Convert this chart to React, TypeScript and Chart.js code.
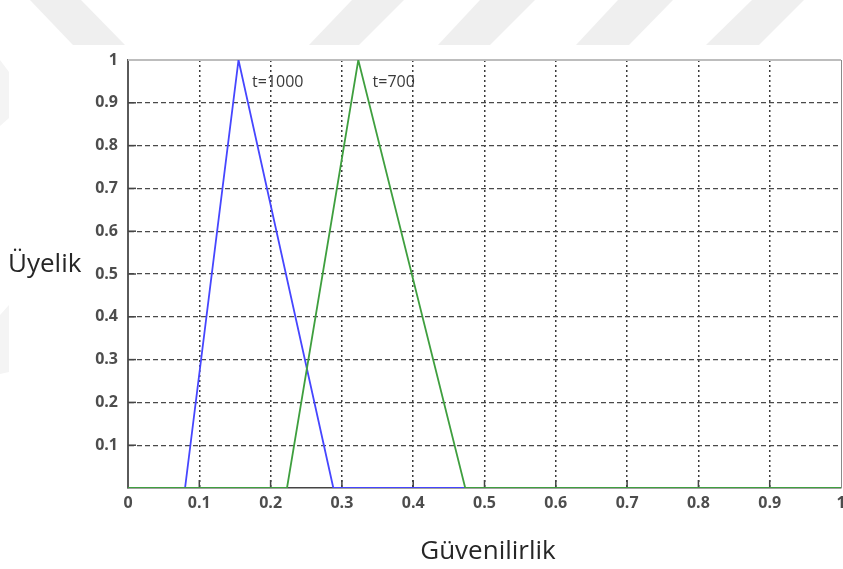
import React, { useEffect, useRef } from "react";
import { Chart, registerables } from "chart.js";

Chart.register(...registerables);

// Membership function t=1000 (blue)
const blueX = [0.08, 0.155, 0.288, 0.473];
const blueY = [0, 1, 0, 0];
// Membership function t=700 (green)
const greenX = [0, 0.223, 0.323, 0.473, 1];
const greenY = [0, 0, 1, 0, 0];

const seriesNames = ["t=1000", "t=700"];
const labelX = [0.174, 0.343];
const labelY = [0.948, 0.948];

const xTicks = [0, 0.1, 0.2, 0.3, 0.4, 0.5, 0.6, 0.7, 0.8, 0.9, 1];
const yTicks = [0.1, 0.2, 0.3, 0.4, 0.5, 0.6, 0.7, 0.8, 0.9, 1];
const xTitle = "Güvenilirlik";
const yTitle = "Üyelik";

const fmt = (v: number) => {
  const r = Number(Number(v).toFixed(1));
  return r === 0 || r === 1 ? String(r) : r.toFixed(1);
};

const decorPlugin = {
  id: "decor",
  beforeDraw(chart: any) {
    const ctx = chart.ctx;
    ctx.save();
    ctx.fillStyle = "#ffffff";
    ctx.fillRect(0, 0, chart.width, chart.height);
    ctx.fillStyle = "#efefef";
    const polys = [
      [[30, 0], [81, 0], [125, 45], [73, 45]],
      [[352, 0], [404, 0], [359, 45], [309, 45]],
      [[480, 0], [535, 0], [490, 45], [438, 45]],
      [[618, 0], [673, 0], [629, 45], [576, 45]],
      [[752, 0], [804, 0], [759, 45], [706, 45]],
    ];
    for (const p of polys) {
      ctx.beginPath();
      ctx.moveTo(p[0][0], p[0][1]);
      for (let i = 1; i < p.length; i++) ctx.lineTo(p[i][0], p[i][1]);
      ctx.closePath();
      ctx.fill();
    }
    ctx.fillStyle = "#f4f4f4";
    const faint = [
      [[0, 60], [9, 72], [9, 118], [0, 126]],
      [[0, 315], [9, 305], [9, 372], [0, 374]],
    ];
    for (const p of faint) {
      ctx.beginPath();
      ctx.moveTo(p[0][0], p[0][1]);
      for (let i = 1; i < p.length; i++) ctx.lineTo(p[i][0], p[i][1]);
      ctx.closePath();
      ctx.fill();
    }
    ctx.restore();
  },
  beforeDatasetsDraw(chart: any) {
    const ctx = chart.ctx;
    const { left, right, top, bottom } = chart.chartArea;
    const xs = chart.scales.x;
    const ys = chart.scales.y;
    ctx.save();
    ctx.strokeStyle = "#bdbdbd";
    ctx.lineWidth = 2;
    ctx.beginPath();
    ctx.moveTo(left, top);
    ctx.lineTo(right, top);
    ctx.stroke();
    ctx.strokeStyle = "#8a8a8a";
    ctx.lineWidth = 1;
    ctx.beginPath();
    ctx.moveTo(right + 0.5, top);
    ctx.lineTo(right + 0.5, bottom);
    ctx.stroke();
    ctx.strokeStyle = "#444";
    ctx.lineWidth = 1.5;
    for (const v of xTicks) {
      if (v === 0 || v === 1) continue;
      const px = xs.getPixelForValue(v);
      ctx.beginPath();
      ctx.moveTo(px, bottom);
      ctx.lineTo(px, bottom - 8);
      ctx.stroke();
    }
    for (const v of yTicks) {
      if (v === 1) continue;
      const py = ys.getPixelForValue(v);
      ctx.beginPath();
      ctx.moveTo(left, py);
      ctx.lineTo(left + 8, py);
      ctx.stroke();
    }
    ctx.restore();
  },
  afterDraw(chart: any) {
    const ctx = chart.ctx;
    const xs = chart.scales.x;
    const ys = chart.scales.y;
    ctx.save();
    ctx.fillStyle = "#3a3a3a";
    ctx.font = '16px "Open Sans"';
    ctx.textBaseline = "middle";
    ctx.textAlign = "left";
    for (let i = 0; i < seriesNames.length; i++) {
      ctx.fillText(seriesNames[i], xs.getPixelForValue(labelX[i]), ys.getPixelForValue(labelY[i]));
    }
    ctx.fillStyle = "#262626";
    ctx.font = '26px "Open Sans"';
    ctx.textAlign = "left";
    ctx.textBaseline = "alphabetic";
    ctx.fillText(yTitle, 8, 272);
    ctx.textAlign = "center";
    ctx.fillText(xTitle, 488, 559);
    ctx.restore();
  },
};

export default function App() {
  const ref = useRef<HTMLCanvasElement | null>(null);
  useEffect(() => {
    if (!ref.current) return;
    const chart = new Chart(ref.current, {
      type: "line",
      data: {
        datasets: [
          {
            label: seriesNames[0],
            data: blueX.map((x, i) => ({ x, y: blueY[i] })),
            borderColor: "#4646ff",
            borderWidth: 1.8,
            pointRadius: 0,
            tension: 0,
            order: 2,
          },
          {
            label: seriesNames[1],
            data: greenX.map((x, i) => ({ x, y: greenY[i] })),
            borderColor: "#3f9f3f",
            borderWidth: 1.8,
            pointRadius: 0,
            tension: 0,
            order: 1,
          },
        ],
      },
      plugins: [decorPlugin],
      options: {
        animation: false,
        responsive: false,
        maintainAspectRatio: false,
        layout: { padding: { left: 0, right: 2, top: 60, bottom: 0 } },
        plugins: { legend: { display: false }, tooltip: { enabled: false } },
        scales: {
          x: {
            type: "linear",
            min: 0,
            max: 1,
            afterFit: (a: any) => {
              a.height = 81;
              a.paddingLeft = 0;
              a.paddingRight = 0;
            },
            afterBuildTicks: (a: any) => {
              a.ticks = xTicks.map((v) => ({ value: v }));
            },
            ticks: {
              padding: 6,
              color: "#4d4d4d",
              font: { family: "Open Sans", size: 16, weight: "bold" },
              maxRotation: 0,
              callback: (v: any) => fmt(v),
            },
            grid: {
              drawTicks: false,
              color: (c: any) => (c.tick && (c.tick.value === 0 || c.tick.value === 1) ? "rgba(0,0,0,0)" : "#3a3a3a"),
              lineWidth: 1.5,
            },
            border: { display: true, color: "#444", width: 1.5, dash: [2, 3] },
          } as any,
          y: {
            type: "linear",
            min: 0,
            max: 1,
            afterFit: (a: any) => {
              a.width = 128;
              a.paddingTop = 0;
              a.paddingBottom = 0;
            },
            afterBuildTicks: (a: any) => {
              a.ticks = [0, ...yTicks].map((v) => ({ value: v }));
            },
            ticks: {
              padding: 10,
              color: "#4d4d4d",
              font: { family: "Open Sans", size: 16, weight: "bold" },
              callback: (v: any) => (Number(v) === 0 ? "" : fmt(v)),
            },
            grid: {
              drawTicks: false,
              color: (c: any) => (c.tick && (c.tick.value === 0 || c.tick.value === 1) ? "rgba(0,0,0,0)" : "#4a4a4a"),
              lineWidth: 1.2,
            },
            border: { display: true, color: "#5a5a5a", width: 2, dash: [5, 3] },
          } as any,
        },
      },
    } as any);
    return () => chart.destroy();
  }, []);
  return (
    <div style={{ position: "fixed", left: 0, top: 0, width: 843, height: 569, background: "#fff" }}>
      <canvas ref={ref} width={843} height={569} style={{ width: 843, height: 569, display: "block" }} />
    </div>
  );
}
